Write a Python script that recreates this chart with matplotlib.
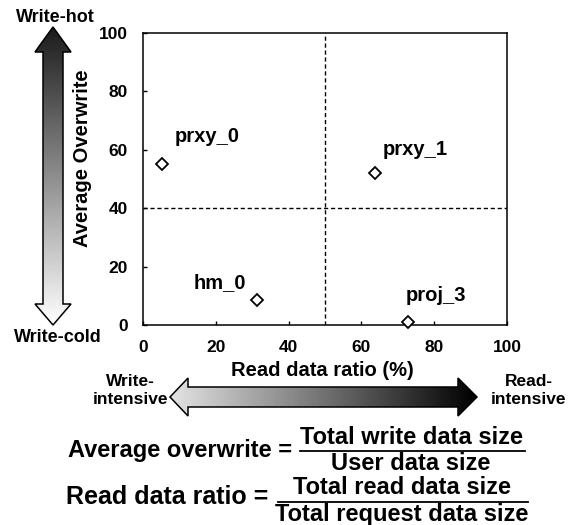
import numpy as np
import matplotlib.pyplot as plt
from matplotlib.patches import Polygon

plt.rcParams['font.family'] = ['Liberation Sans', 'DejaVu Sans']
plt.rcParams['font.weight'] = 'bold'

# workloads: read data ratio (%) and average overwrite
names = ['prxy_0', 'prxy_1', 'hm_0', 'proj_3']
read_ratio = [5.1, 63.7, 31.4, 72.7]
avg_overwrite = [55.2, 52.1, 8.4, 1.1]
label_offsets = [(9.4, 19.4), (5.8, 16.6), (-46, 13), (-1.4, 18.7)]  # points

xticks = [0, 20, 40, 60, 80, 100]
yticks = [0, 20, 40, 60, 80, 100]

W, H = 573, 525
fig = plt.figure(figsize=(W / 100, H / 100), dpi=100)

# main scatter axes (pixel box 143..507 x 33..325)
ax = fig.add_axes([143 / W, 1 - 325 / H, 364 / W, 292 / H])
ax.plot(read_ratio, avg_overwrite, 'D', ms=6.5, mfc='white', mec='black', mew=1.3,
        clip_on=False, zorder=5)
for n, x, y, off in zip(names, read_ratio, avg_overwrite, label_offsets):
    ax.annotate(n, (x, y), xytext=off, textcoords='offset points',
                ha='left', va='center', fontsize=14.5, fontweight='bold')
ax.axvline(50, color='black', lw=1, dashes=(3, 2))
ax.axhline(40, color='black', lw=1, dashes=(3, 2))
ax.set_xlim(0, 100)
ax.set_ylim(0, 100)
ax.set_xticks(xticks)
ax.set_yticks(yticks)
ax.tick_params(direction='in', length=3, width=1, labelsize=12.5, pad=11)
for lab in ax.get_xticklabels() + ax.get_yticklabels():
    lab.set_fontweight('bold')
for s in ax.spines.values():
    s.set_linewidth(1.1)

# overlay in pixel coordinates for arrows and formulas
ov = fig.add_axes([0, 0, 1, 1])
ov.axis('off')


def grad_arrow(verts, box, vertical):
    poly = Polygon(verts, closed=True, fc='none', ec='black', lw=1.1, zorder=3)
    ov.add_patch(poly)
    g = np.linspace(0, 1, 256)
    if vertical:
        img = g[:, None]  # top dark -> bottom white
        cmap = 'gray'
    else:
        img = g[None, :]
        cmap = 'gray_r'
    x0, x1, y0, y1 = box
    im = ov.imshow(img, cmap=cmap, extent=(x0, x1, y1, y0), aspect='auto',
                   vmin=-0.12, vmax=1.0, zorder=2, interpolation='bilinear')
    im.set_clip_path(poly)


cx = 53
grad_arrow([(cx, 27), (cx + 18, 52), (cx + 10, 52), (cx + 10, 304), (cx + 18, 304),
            (cx, 325), (cx - 18, 304), (cx - 10, 304), (cx - 10, 52), (cx - 18, 52)],
           (cx - 18, cx + 18, 27, 325), True)
cy = 397
grad_arrow([(170, cy), (188, cy - 19), (188, cy - 10), (458, cy - 10), (458, cy - 19),
            (477, cy), (458, cy + 19), (458, cy + 10), (188, cy + 10), (188, cy + 19)],
           (170, 477, cy - 19, cy + 19), False)
ov.set_xlim(0, W)
ov.set_ylim(H, 0)

ov.text(55, 17, 'Write-hot', ha='center', va='center', fontsize=13)
ov.text(58, 338, 'Write-cold', ha='center', va='center', fontsize=13)
ov.text(82, 158, 'Average Overwrite', ha='center', va='center', rotation=90, fontsize=14.5)
ov.text(322, 370, 'Read data ratio (%)', ha='center', va='center', fontsize=14.5)
ov.text(130, 391, 'Write-\nintensive', ha='center', va='center', fontsize=12.5,
        linespacing=1.25)
ov.text(529, 391, 'Read-\nintensive', ha='center', va='center', fontsize=12.5,
        linespacing=1.25)

# formulas
fs = 17
ov.text(292, 451, 'Average overwrite =', ha='right', va='center', fontsize=fs)
ov.text(412, 437, 'Total write data size', ha='center', va='center', fontsize=fs)
ov.plot([300, 525], [451, 451], color='black', lw=1.3)
ov.text(411, 463, 'User data size', ha='center', va='center', fontsize=fs)
ov.text(66, 497, 'Read data ratio =', ha='left', va='center', fontsize=18)
ov.text(402, 487, 'Total read data size', ha='center', va='center', fontsize=fs)
ov.plot([278, 528], [502, 502], color='black', lw=1.3)
ov.text(402, 515, 'Total request data size', ha='center', va='center', fontsize=fs)

fig.savefig('out.png', dpi=100)
